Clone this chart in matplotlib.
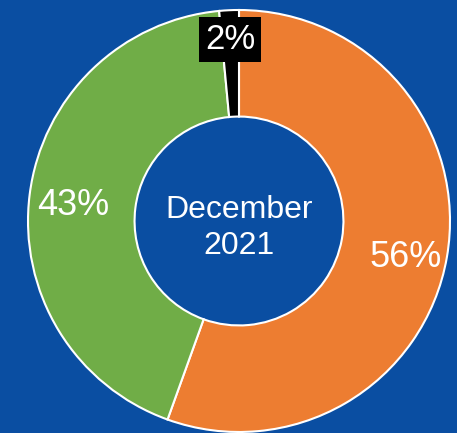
import numpy as np
import matplotlib.pyplot as plt

plt.rcParams['font.family'] = ['Liberation Sans', 'DejaVu Sans']

# data (clockwise from 12 o'clock)
segments = ['Orange', 'Green', 'Black']
shares = [55.5, 43.0, 1.5]
labels = ['56%', '43%', '2%']
colors = ['#ED7D31', '#70AD47', '#000000']
center_text = 'December\n2021'

bg = '#0A4EA2'

fig = plt.figure(figsize=(4.57, 4.33), dpi=100)
fig.patch.set_facecolor(bg)
ax = fig.add_axes([0, 0, 1, 1])
ax.set_facecolor(bg)

wedges, _ = ax.pie(shares, colors=colors, startangle=90, counterclock=False,
                   radius=1.0,
                   wedgeprops=dict(width=0.505, edgecolor='white', linewidth=1.5))

# place labels near the wedge mid-angles
label_r = [0.80, 0.79, 0.87]
label_dy = [-0.034, -0.024, -0.01]
for w, lab, r, dy in zip(wedges, labels, label_r, label_dy):
    mid = np.deg2rad((w.theta1 + w.theta2) / 2)
    x, y = r * np.cos(mid), r * np.sin(mid) + dy
    if lab == '2%':
        ax.text(x, y, lab, ha='center', va='center', color='white', fontsize=25,
                bbox=dict(boxstyle='square,pad=0.17', fc='black', ec='none'))
    else:
        ax.text(x, y, lab, ha='center', va='center', color='white', fontsize=26)

ax.text(0, -0.032, center_text, ha='center', va='center', color='white',
        fontsize=23, linespacing=1.25)

# pixel layout: centre at (239, 221), radius 211 px
ax.set_xlim(-239 / 211, (457 - 239) / 211)
ax.set_ylim(-(433 - 221) / 211, 221 / 211)
ax.set_aspect('auto')
ax.axis('off')

fig.savefig('out.png', dpi=100, facecolor=bg)
